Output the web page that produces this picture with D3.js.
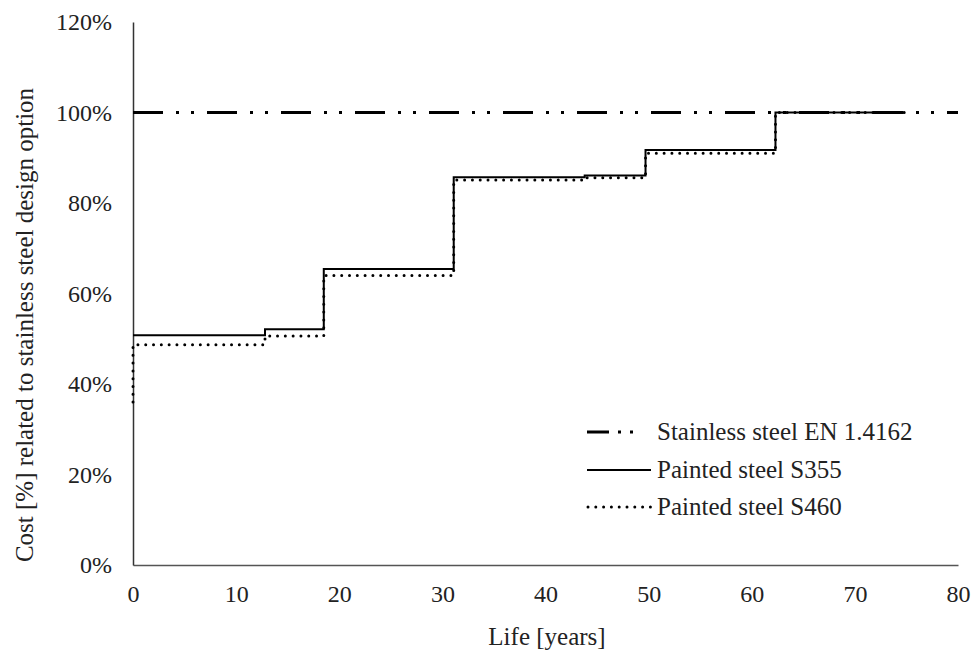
<!DOCTYPE html>
<html><head><meta charset="utf-8">
<script src="https://cdn.jsdelivr.net/npm/d3@7"></script>
<style>body{margin:0;background:#fff}svg{display:block}text{font-family:"Liberation Serif","Times New Roman",serif;fill:#222}</style>
</head><body><svg id="c" width="976" height="650"></svg>
<script>
const xTicks = [0,10,20,30,40,50,60,70,80];
const yTicks = [0,20,40,60,80,100,120];
const stainlessYears = [0, 80];
const stainlessCost = [100, 100];
const s355Years = [0, 12.8, 18.5, 31.1, 43.8, 49.7, 62.3, 74.8];
const s355Cost = [50.8, 52.1, 65.4, 85.7, 86.1, 91.7, 100, 100];
const s460Years = [0, 0, 12.8, 18.5, 31.1, 43.8, 49.7, 62.3, 74.8];
const s460Cost = [36, 48.7, 50.6, 64.0, 85.1, 85.6, 91.0, 100, 100];
const seriesNames = ["Stainless steel EN 1.4162", "Painted steel S355", "Painted steel S460"];

const svg = d3.select("#c");
const x = d3.scaleLinear().domain([0,80]).range([133,958]);
const y = d3.scaleLinear().domain([0,120]).range([565,22]);

// axes
const xa = svg.append("g").attr("transform","translate(0,565)")
  .call(d3.axisBottom(x).tickValues(xTicks).tickSize(0).tickPadding(20).tickFormat(d3.format("d")));
xa.select(".domain").attr("stroke","#555").attr("stroke-width",1.5);
const ya = svg.append("g").attr("transform","translate(133,0)")
  .call(d3.axisLeft(y).tickValues(yTicks).tickSize(0).tickPadding(21).tickFormat(d=>d+"%"));
ya.select(".domain").attr("stroke","#333").attr("stroke-width",1.5);
svg.selectAll(".tick text").attr("font-size",24).attr("fill","#222")
  .style("font-family",'"Liberation Serif",serif');

svg.append("text").attr("x",547).attr("y",645).attr("text-anchor","middle")
  .attr("font-size",25).text("Life [years]");
svg.append("text").attr("transform","translate(33,325) rotate(-90)").attr("text-anchor","middle")
  .attr("font-size",25).text("Cost [%] related to stainless steel design option");

const line = d3.line().x(d=>x(d[0])).y(d=>y(d[1])).curve(d3.curveStepAfter);
const styles = [
  {w:3, dash:"30,13,3,12,3,13", cap:"butt"},
  {w:2, dash:null, cap:"butt"},
  {w:3, dash:"0,7.8", cap:"round"}
];
const data = [
  d3.zip(stainlessYears, stainlessCost),
  d3.zip(s355Years, s355Cost),
  d3.zip(s460Years, s460Cost)
];
[0,2,1].forEach(i=>{
  svg.append("path").attr("d",line(data[i])).attr("fill","none").attr("stroke","#000")
    .attr("stroke-width",styles[i].w).attr("stroke-dasharray",styles[i].dash)
    .attr("stroke-linecap",styles[i].cap);
});

// legend
const lg = svg.append("g");
const legendY = [432, 470, 507];
seriesNames.forEach((n,i)=>{
  const yy = legendY[i];
  const s = styles[i];
  lg.append("line").attr("x1",i==2?588:587).attr("x2",i==0?650:651).attr("y1",yy).attr("y2",yy)
    .attr("stroke","#000").attr("stroke-width",s.w).attr("stroke-dasharray",i==0?"22,9,3,9,3,100":s.dash)
    .attr("stroke-linecap",s.cap);
  lg.append("text").attr("x",657).attr("y",yy+8).attr("font-size",25).text(n);
});
</script></body></html>
